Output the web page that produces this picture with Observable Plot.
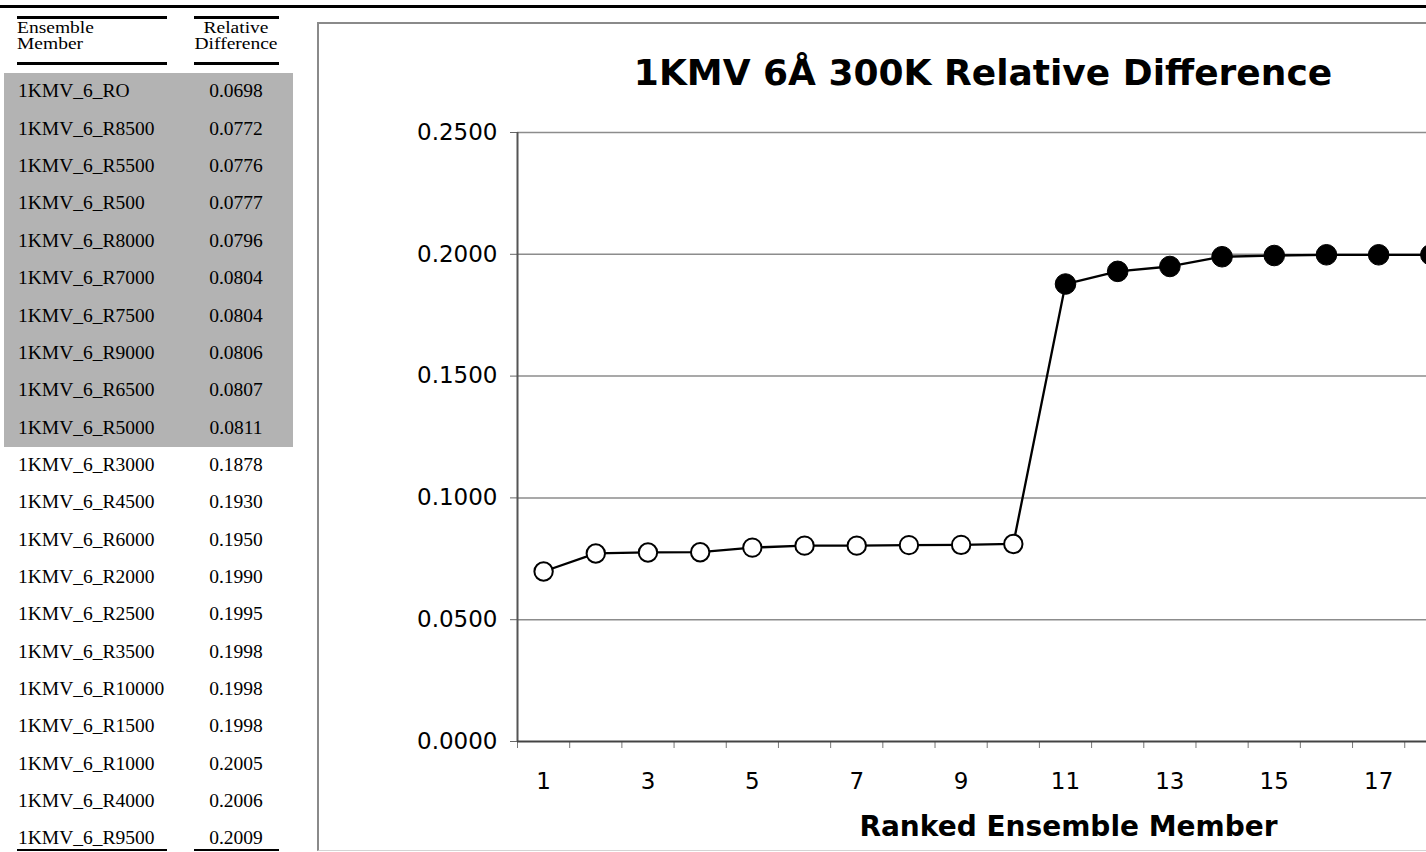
<!DOCTYPE html>
<html><head><meta charset="utf-8">
<script src="https://cdn.jsdelivr.net/npm/d3@7"></script>
<script src="https://cdn.jsdelivr.net/npm/@observablehq/plot@0.6"></script>
<style>
html,body{margin:0;padding:0;width:1426px;height:852px;overflow:hidden;background:#fff;}
body{position:relative;}
.abs{position:absolute;}
.serif{font-family:"Liberation Serif","Times New Roman",serif;font-size:19.5px;color:#000;white-space:nowrap;}
.hdr{font-size:19.5px;transform:scaleY(0.85);transform-origin:0 50%;}
.rule{position:absolute;background:#000;}
#title{position:absolute;left:533px;width:900px;top:50.5px;text-align:center;font-family:"DejaVu Sans",Verdana,sans-serif;font-weight:bold;font-size:36px;line-height:44px;color:#000;white-space:nowrap;}
#chartbox{position:absolute;left:317px;top:22px;width:2000px;height:826px;border-top:2px solid #8a8a8a;border-left:2px solid #8a8a8a;border-bottom:1px solid #d4d4d4;}
#plot{position:absolute;left:318px;top:23px;width:1320px;height:830px;}
#plot svg{max-width:none !important;width:1320px;height:830px;}
</style></head><body>
<div class="rule" style="left:0;top:5px;width:1426px;height:3px;"></div>
<div id="chartbox"></div>
<div id="table"></div>
<div id="title"></div>
<div id="plot"></div>
<script>
// ---- data ----
const members = ["1KMV_6_RO","1KMV_6_R8500","1KMV_6_R5500","1KMV_6_R500","1KMV_6_R8000","1KMV_6_R7000","1KMV_6_R7500","1KMV_6_R9000","1KMV_6_R6500","1KMV_6_R5000","1KMV_6_R3000","1KMV_6_R4500","1KMV_6_R6000","1KMV_6_R2000","1KMV_6_R2500","1KMV_6_R3500","1KMV_6_R10000","1KMV_6_R1500","1KMV_6_R1000","1KMV_6_R4000","1KMV_6_R9500"];
const values = [0.0698,0.0772,0.0776,0.0777,0.0796,0.0804,0.0804,0.0806,0.0807,0.0811,0.1878,0.1930,0.1950,0.1990,0.1995,0.1998,0.1998,0.1998,0.2005,0.2006,0.2009];
const ranks = members.map((d, i) => i + 1);
const highlightedCount = 10;
const yTicks = [0, 0.05, 0.10, 0.15, 0.20, 0.25];
const xTickLabels = [1, 3, 5, 7, 9, 11, 13, 15, 17];
const xTickMarks = d3.range(0.5, 22, 1);
const headerCol1 = ["Ensemble", "Member"];
const headerCol2 = ["Relative", "Difference"];
const chartTitle = "1KMV 6Å 300K Relative Difference";
const xLabel = "Ranked Ensemble Member";

// ---- table (HTML) ----
const table = document.getElementById("table");
function add(html, style, cls) {
  const d = document.createElement("div");
  d.className = cls || "abs serif";
  d.setAttribute("style", style);
  d.innerHTML = html;
  table.appendChild(d);
  return d;
}
add("", "left:4px;top:73px;width:289px;height:374px;background:#b3b3b3;", "abs");
add("", "left:17px;top:16px;width:150px;height:3px;", "rule");
add("", "left:194px;top:16px;width:85px;height:3px;", "rule");
add("", "left:17px;top:62px;width:150px;height:3px;", "rule");
add("", "left:194px;top:62px;width:85px;height:3px;", "rule");
add("", "left:17px;top:849px;width:150px;height:2px;", "rule");
add("", "left:194px;top:849px;width:85px;height:2px;", "rule");
[34, 50].forEach((baseline, j) => {
  const top = baseline - 13.6;
  add(headerCol1[j], `left:17px;top:${top}px;height:16px;line-height:16px;`, "abs serif hdr");
  add(headerCol2[j], `left:186px;width:100px;text-align:center;top:${top}px;height:16px;line-height:16px;transform-origin:50% 50%;`, "abs serif hdr");
});
members.forEach((m, i) => {
  const baseline = 98 + 37.35 * i;
  const top = baseline - 16.6;
  add(m, `left:18px;top:${top}px;line-height:20px;`);
  add(values[i].toFixed(4), `left:186px;width:100px;text-align:center;top:${top}px;line-height:20px;`);
});

// ---- chart ----
const data = ranks.map((r, i) => ({rank: r, value: values[i], open: i < highlightedCount}));
const chart = Plot.plot({
  width: 1320,
  height: 830,
  marginLeft: 199,
  marginRight: 25,
  marginTop: 109,
  marginBottom: 112,
  style: {fontFamily: "'DejaVu Sans', Verdana, sans-serif", fontSize: "23px", color: "#000", background: "transparent", overflow: "visible", maxWidth: "none"},
  x: {type: "linear", domain: [0.5, 21.5]},
  y: {domain: [0, 0.25]},
  marks: [
    Plot.gridY(yTicks.slice(1), {stroke: "#8c8c8c", strokeOpacity: 1, strokeWidth: 1.5}),
    Plot.axisY({ticks: yTicks, tickFormat: d3.format(".4f"), tickSize: 7, tickPadding: 13, fontSize: 23, stroke: "#666", label: null}),
    Plot.axisX({ticks: xTickMarks, tickFormat: () => "", tickSize: 7, stroke: "#777", label: null}),
    Plot.axisX({ticks: xTickLabels, tickSize: 0, tickPadding: 31, fontSize: 23, label: null}),
    Plot.ruleX([0.5], {stroke: "#555", strokeWidth: 2}),
    Plot.ruleY([0], {stroke: "#444", strokeWidth: 2}),
    Plot.line(data, {x: "rank", y: "value", stroke: "#000", strokeWidth: 2.3}),
    Plot.dot(data.filter(d => d.open), {x: "rank", y: "value", r: 9.2, fill: "#fff", stroke: "#000", strokeWidth: 2}),
    Plot.dot(data.filter(d => !d.open), {x: "rank", y: "value", r: 10.3, fill: "#000", stroke: "#000", strokeWidth: 1}),
    Plot.text([xLabel], {frameAnchor: "bottom", lineAnchor: "middle", dy: 86, dx: 3, fontSize: 28, fontWeight: "bold", fill: "#000"})
  ]
});
document.getElementById("plot").appendChild(chart);
document.getElementById("title").textContent = chartTitle;
</script>
</body></html>
